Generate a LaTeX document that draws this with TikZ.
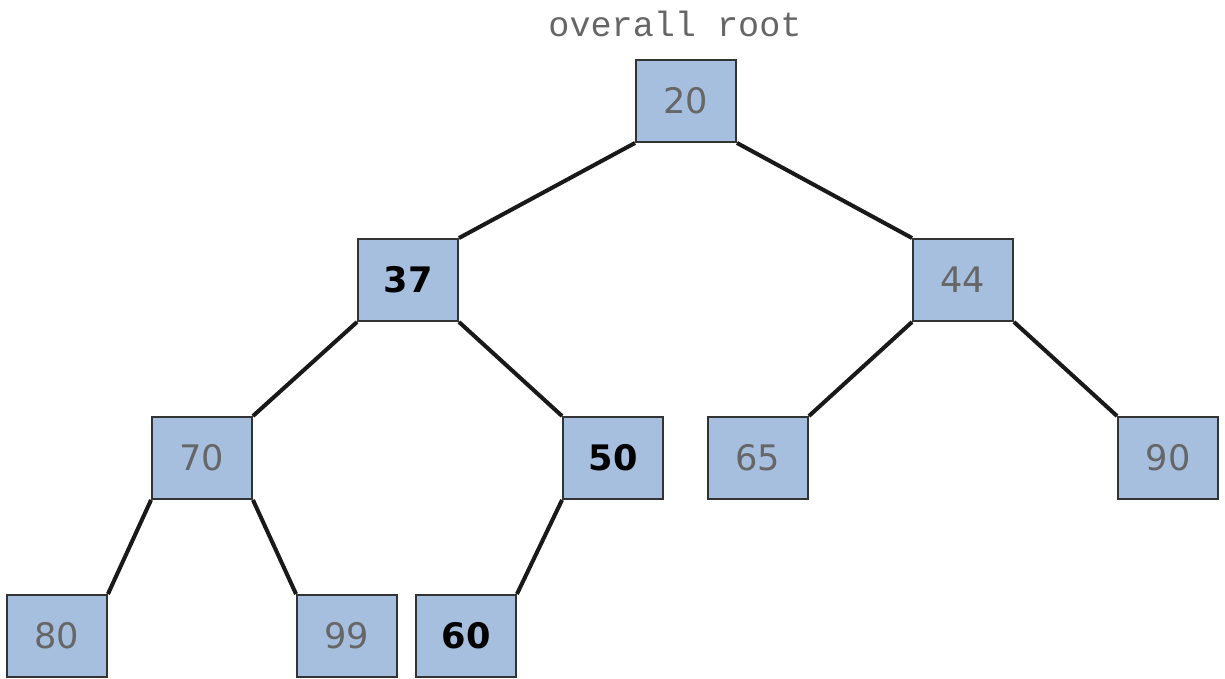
\documentclass[tikz,border=0pt]{standalone}
\usepackage{fontspec}
\setmainfont{DejaVu Sans}
\newfontfamily\monofont{Liberation Mono}
\usepackage{xcolor}
\usepackage{tikz}
\usetikzlibrary{positioning}

\definecolor{boxblue}{HTML}{A6BFDE}

\begin{document}
\begin{tikzpicture}[
    x=0.02cm, y=-0.02cm,
    treenode/.style={draw=black!80, line width=1.1pt, rectangle, fill=boxblue,
                     minimum width=2cm, minimum height=1.64cm,
                     font=\fontsize{20}{24}\selectfont, text=black!60},
    hot/.style={font=\fontsize{20}{24}\selectfont\bfseries, text=black},
    edge/.style={line width=2.3pt, black!90},
    label/.style={font=\monofont\fontsize{20}{24}\selectfont, text=black!60}
]
\useasboundingbox (0,0) rectangle (1225,679);

% tree nodes
\node[label] (title) at (675,24) {overall root};
\node[treenode] (n20) at (686,101) {20};
\node[treenode, hot] (n37) at (408,280) {37};
\node[treenode] (n44) at (963,280) {44};
\node[treenode] (n70) at (202,458) {70};
\node[treenode, hot] (n50) at (613,458) {50};
\node[treenode] (n65) at (758,458) {65};
\node[treenode] (n90) at (1168,458) {90};
\node[treenode] (n80) at (57,636) {80};
\node[treenode] (n99) at (347,636) {99};
\node[treenode, hot] (n60) at (466,636) {60};

% links
\draw[edge] (n20.south west) -- (n37.north east);
\draw[edge] (n20.south east) -- (n44.north west);
\draw[edge] (n37.south west) -- (n70.north east);
\draw[edge] (n37.south east) -- (n50.north west);
\draw[edge] (n44.south west) -- (n65.north east);
\draw[edge] (n44.south east) -- (n90.north west);
\draw[edge] (n70.south west) -- (n80.north east);
\draw[edge] (n70.south east) -- (n99.north west);
\draw[edge] (n50.south west) -- (n60.north east);

\end{tikzpicture}
\end{document}
